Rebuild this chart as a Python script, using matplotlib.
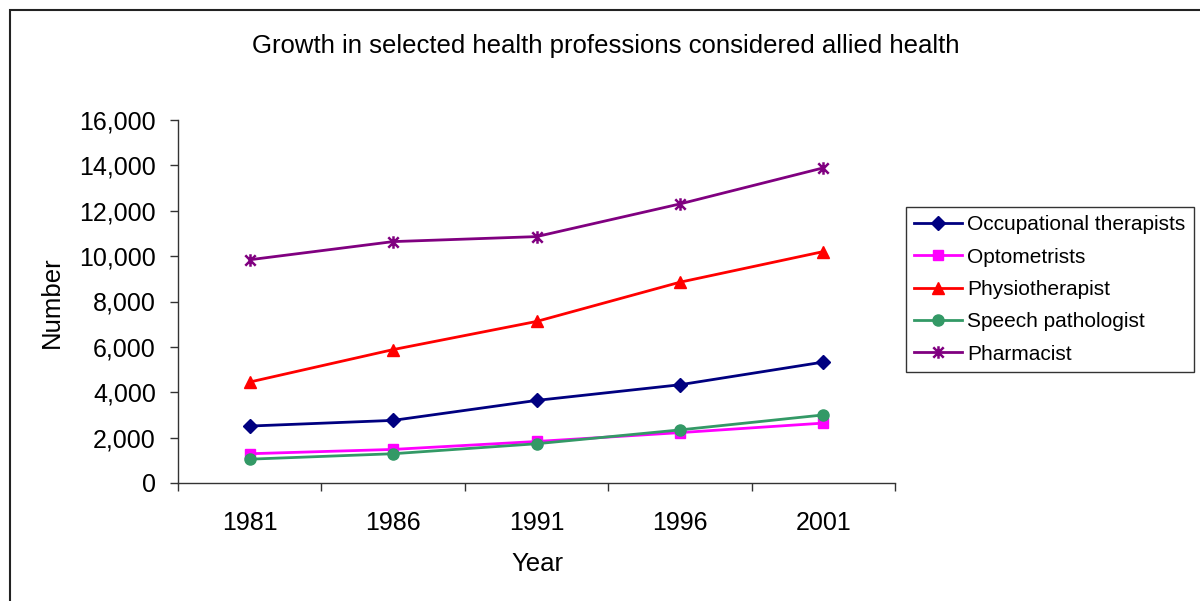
import matplotlib
matplotlib.use("Agg")
import matplotlib.pyplot as plt
from matplotlib.path import Path
from matplotlib.patches import Rectangle
from matplotlib.ticker import FuncFormatter, FixedLocator

plt.rcParams['font.family'] = ['Liberation Sans', 'DejaVu Sans']

years = ["1981", "1986", "1991", "1996", "2001"]
occupational = [2510, 2760, 3640, 4330, 5330]
optometrists = [1290, 1480, 1830, 2220, 2640]
physio = [4450, 5880, 7120, 8850, 10200]
speech = [1050, 1290, 1730, 2340, 3000]
pharmacist = [9840, 10640, 10860, 12300, 13890]

series = [
    ("Occupational therapists", occupational, "#000080", "D", 7),
    ("Optometrists", optometrists, "#FF00FF", "s", 7),
    ("Physiotherapist", physio, "#FF0000", "^", 8),
    ("Speech pathologist", speech, "#339966", "o", 8),
    ("Pharmacist", pharmacist, "#800080", None, 9),
]

# X with a vertical bar through it
star_path = Path(
    [(-1, -1), (1, 1), (-1, 1), (1, -1), (0, -1.2), (0, 1.2)],
    [Path.MOVETO, Path.LINETO, Path.MOVETO, Path.LINETO, Path.MOVETO, Path.LINETO],
)

fig = plt.figure(figsize=(12, 6.01), dpi=100)
ax = fig.add_axes([178 / 1200, 1 - 483 / 601, (895 - 178) / 1200, (483 - 120) / 601])

x = list(range(len(years)))
handles = []
for name, vals, color, marker, ms in series:
    if marker is None:
        h, = ax.plot(x, vals, color=color, lw=2, marker=star_path, ms=ms,
                     mew=1.8, mec=color, label=name)
    else:
        h, = ax.plot(x, vals, color=color, lw=2, marker=marker, ms=ms,
                     mec=color, mfc=color, label=name)
    handles.append(h)

ax.set_xlim(-0.5, len(years) - 0.5)
ax.set_ylim(0, 16000)
ax.set_yticks(range(0, 16001, 2000))
ax.yaxis.set_major_formatter(FuncFormatter(lambda v, p: f"{int(v):,}"))
ax.set_xticks(x)
ax.set_xticklabels(years)
ax.xaxis.set_minor_locator(FixedLocator([i - 0.5 for i in range(len(years) + 1)]))
ax.tick_params(axis='x', which='major', length=0, pad=20.5, labelsize=18)
ax.tick_params(axis='x', which='minor', length=6, width=1, color='#333333', direction='out')
ax.tick_params(axis='y', length=6, width=1, color='#333333', direction='out', pad=10, labelsize=18)

for s in ("top", "right"):
    ax.spines[s].set_visible(False)
for s in ("left", "bottom"):
    ax.spines[s].set_color('#333333')
    ax.spines[s].set_linewidth(1)

fig.text(606 / 1200, 1 - 46 / 601, "Growth in selected health professions considered allied health",
         ha='center', va='center', fontsize=18.5)
fig.text(537 / 1200, 1 - 564 / 601, "Year", ha='center', va='center', fontsize=18.5)
fig.text(52 / 1200, 1 - 302 / 601, "Number", ha='center', va='center', rotation=90, fontsize=18.5)

leg = fig.legend(handles=handles, loc='upper left',
                 bbox_to_anchor=(906 / 1200, 1 - 207 / 601),
                 bbox_transform=fig.transFigure, borderaxespad=0,
                 fontsize=15, handlelength=2.3, handletextpad=0.25,
                 labelspacing=0.64, borderpad=0.4, frameon=True, fancybox=False)
leg.get_frame().set_edgecolor('black')
leg.get_frame().set_linewidth(1)

# chart area border
fig.patches.append(Rectangle((9.5 / 1200, -0.5), 2, 1.5 - 10 / 601, transform=fig.transFigure,
                             fill=False, edgecolor='#222222', linewidth=1.5))

fig.savefig("out.png", dpi=100)
